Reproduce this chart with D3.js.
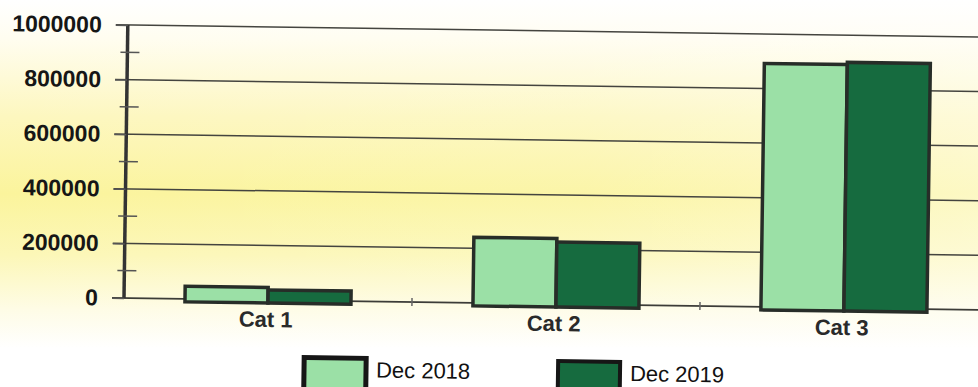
<!DOCTYPE html>
<html>
<head>
<meta charset="utf-8">
<script src="https://cdn.jsdelivr.net/npm/d3@7"></script>
<style>
  html, body { margin: 0; padding: 0; background: #fff; }
  svg { display: block; }
</style>
</head>
<body>
<div id="chart"></div>
<script>
// ---- data ----
const categories = ["Cat 1", "Cat 2", "Cat 3"];
const seriesNames = ["Dec 2018", "Dec 2019"];
const dec2018 = [46000, 240000, 892000];
const dec2019 = [37000, 227000, 900000];
const yTickValues = [0, 200000, 400000, 600000, 800000, 1000000];
const yMinorTicks = [100000, 300000, 500000, 700000, 900000];
const seriesColors = ["#9be0a6", "#166b3f"];

const W = 978, H = 387;
const svg = d3.select("#chart").append("svg").attr("width", W).attr("height", H);

// background gradient (scanned yellow wash)
const defs = svg.append("defs");
const grad = defs.append("linearGradient").attr("id", "bg").attr("x1", 0).attr("y1", 0).attr("x2", 0).attr("y2", 1);
[[0, "#ffffff"], [0.1, "#fffdf0"], [0.3, "#fdf7bf"], [0.5, "#fbf49c"], [0.66, "#fcf7b8"], [0.8, "#fefce6"], [0.9, "#ffffff"], [1, "#ffffff"]]
  .forEach(([o, c]) => grad.append("stop").attr("offset", o).attr("stop-color", c));
const grad2 = defs.append("linearGradient").attr("id", "bgh").attr("x1", 0).attr("y1", 0).attr("x2", 1).attr("y2", 0);
[[0, "#ffffff", 0], [0.6, "#ffffff", 0.12], [1, "#ffffff", 0.4]]
  .forEach(([o, c, a]) => grad2.append("stop").attr("offset", o).attr("stop-color", c).attr("stop-opacity", a));
svg.append("rect").attr("width", W).attr("height", H).attr("fill", "url(#bg)");
svg.append("rect").attr("width", W).attr("height", H).attr("fill", "url(#bgh)");

// pivot of the slightly rotated scan
const x0 = 124, y0 = 298;
const g = svg.append("g").attr("transform", `rotate(0.8, ${x0}, ${y0})`);

const step = 288;
const x = d3.scaleBand().domain(categories).range([x0, x0 + step * categories.length]).padding(0);
const groupW = 166;
const xs = d3.scaleBand().domain(seriesNames).range([0, groupW]).padding(0);
const y = d3.scaleLinear().domain([0, 1000000]).range([y0, y0 - 273]);

// gridlines
g.append("g").selectAll("line").data(yTickValues.filter(v => v > 0)).join("line")
  .attr("x1", x0 - 12).attr("x2", 1010)
  .attr("y1", d => y(d)).attr("y2", d => y(d))
  .attr("stroke", "#44443f").attr("stroke-width", 1.5);

// baseline
g.append("line").attr("x1", x0 - 12).attr("x2", 1010).attr("y1", y(0)).attr("y2", y(0))
  .attr("stroke", "#3c3c38").attr("stroke-width", 1.8);

// x ticks between categories
g.append("g").selectAll("line").data(categories.slice(1)).join("line")
  .attr("x1", d => x(d)).attr("x2", d => x(d))
  .attr("y1", y(0) - 4).attr("y2", y(0) + 4)
  .attr("stroke", "#666").attr("stroke-width", 1.5);

// bars
const seriesData = [dec2018, dec2019];
const groups = g.append("g").selectAll("g").data(categories).join("g")
  .attr("transform", d => `translate(${x(d) + (x.bandwidth() - groupW) / 2},0)`);
groups.selectAll("rect").data((d, i) => seriesNames.map((s, j) => ({ s, v: seriesData[j][i], j })))
  .join("rect")
  .attr("x", d => xs(d.s))
  .attr("width", xs.bandwidth())
  .attr("y", d => y(d.v))
  .attr("height", d => y(0) - y(d.v) + 3)
  .attr("fill", d => seriesColors[d.j])
  .attr("stroke", "#272d28").attr("stroke-width", 3.5);

// y axis
const yAxis = d3.axisLeft(y).tickValues(yTickValues).tickSize(12).tickPadding(14)
  .tickFormat(d3.format("d"));
const ya = g.append("g").attr("transform", `translate(${x0},0)`).call(yAxis);
ya.select(".domain").attr("stroke", "#333").attr("stroke-width", 3.5).attr("d", `M0,${y(1000000)}V${y(0)}`);
ya.selectAll(".tick line").attr("stroke", "#555").attr("stroke-width", 1.5);
ya.selectAll(".tick text")
  .attr("font-family", "'Liberation Sans', Arial, sans-serif")
  .attr("font-weight", "bold").attr("font-size", 23).attr("fill", "#161616");
// minor ticks crossing the axis
g.append("g").selectAll("line").data(yMinorTicks).join("line")
  .attr("x1", x0 - 7).attr("x2", x0 + 12)
  .attr("y1", d => y(d)).attr("y2", d => y(d))
  .attr("stroke", "#555").attr("stroke-width", 1.5);

// category labels
g.append("g").selectAll("text").data(categories).join("text")
  .attr("x", d => x(d) + x.bandwidth() / 2 - 2)
  .attr("y", y(0) + 27)
  .attr("text-anchor", "middle")
  .attr("font-family", "'Liberation Sans', Arial, sans-serif")
  .attr("font-weight", "bold").attr("font-size", 22).attr("fill", "#2a2a2a")
  .text(d => d);

// legend
const legendX = [305, 559];
const lg = g.append("g").selectAll("g").data(seriesNames).join("g")
  .attr("transform", (d, i) => `translate(${legendX[i]},${y0 + 57})`);
lg.append("rect").attr("x", 0).attr("y", 0).attr("width", 62).attr("height", 36)
  .attr("fill", (d, i) => seriesColors[i]).attr("stroke", "#161616").attr("stroke-width", (d, i) => i === 0 ? 5 : 4);
lg.append("text").attr("x", 72).attr("y", 19)
  .attr("font-family", "'Liberation Sans', Arial, sans-serif")
  .attr("font-size", 22).attr("fill", "#111")
  .text(d => d);
</script>
</body>
</html>
